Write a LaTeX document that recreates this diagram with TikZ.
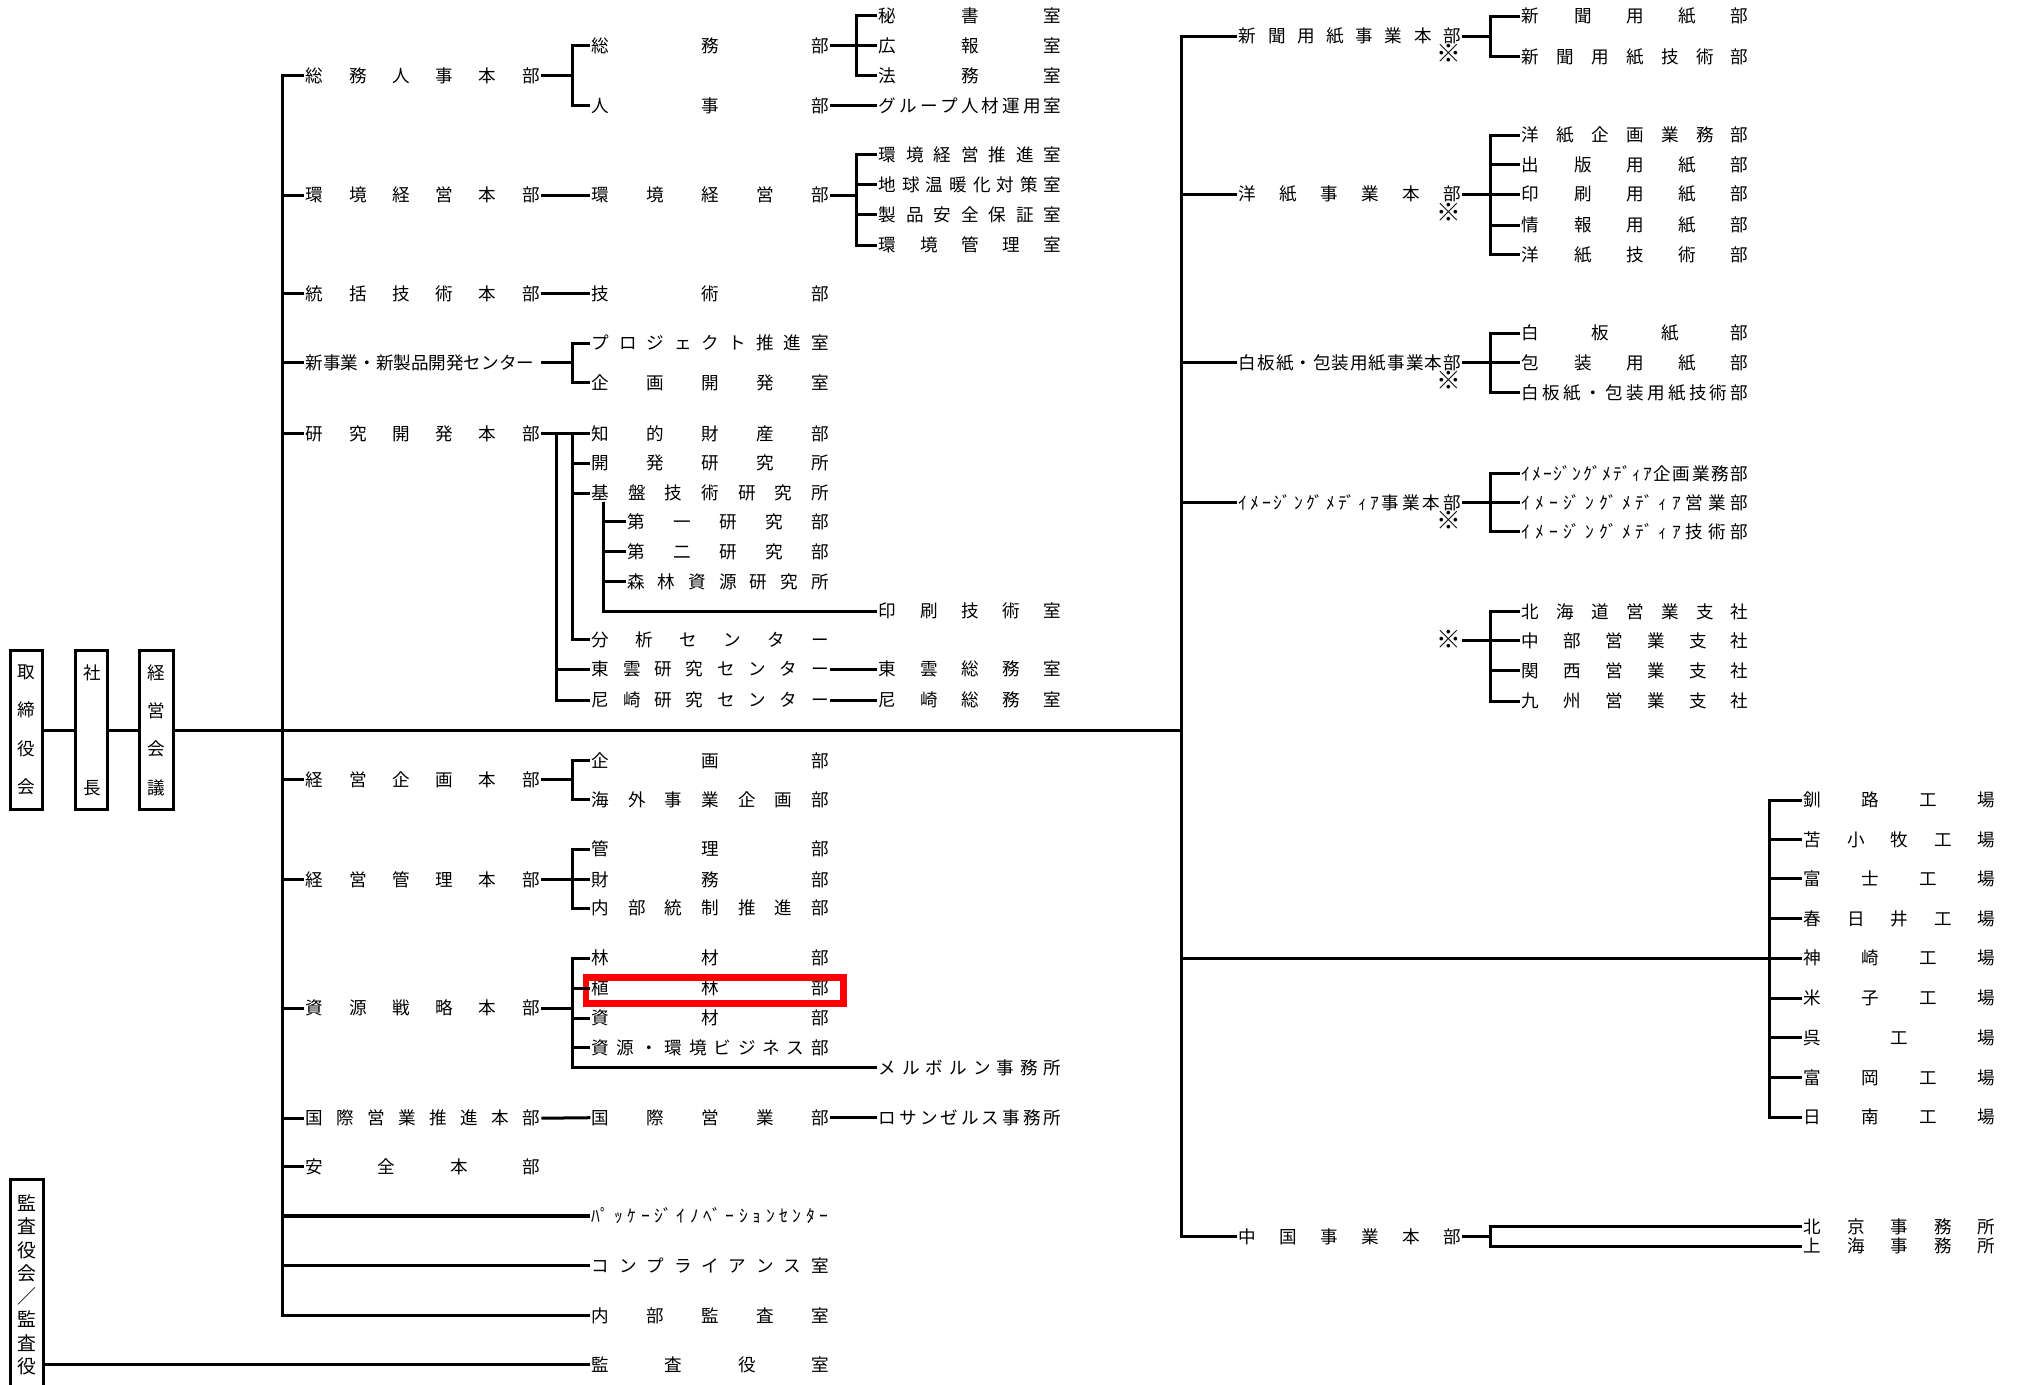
\documentclass[tikz,border=0pt]{standalone}
\usepackage{fontspec}
\newfontfamily\jp{Noto Sans CJK JP}
\newdimen\myu \myu=0.6pt
\tikzset{
  lbl/.style={anchor=west, inner sep=0pt, text height=6.2pt, text depth=0pt, font=\jp\fontsize{8.2}{10}\selectfont},
  kome/.style={inner sep=0pt, text height=7pt, text depth=0pt, font=\jp\fontsize{11.5}{12}\selectfont},
  vbx/.style={draw, line width=1.4pt, inner sep=0pt, align=center, minimum width=15pt, minimum height=74.4pt, font=\jp\fontsize{8.2}{17.9}\selectfont},
  hilite/.style={draw=red, line width=3.2pt, inner sep=0pt, minimum width=119.9pt, minimum height=12.5pt},
}
\newcommand\tx[5]{\node[lbl] (#1) at (#2,#3) {\hbox to #4\myu{\spaceskip=0pt plus 1fil\relax #5}};}
\newcommand\br[3]{\foreach \c in {#3}{\draw (#1.east) -- (#1.east -| #2) |- (\c.west);}}
\begin{document}
\begin{tikzpicture}[x=0.6pt, y=-0.6pt, line width=1.4pt]
\useasboundingbox (0,0) rectangle (1568,1076);

% top-level boxes
\node[vbx] (tori) at (20.8,567.5) {取\\締\\役\\会};
\node[vbx] (sha) at (71.4,567.5) {社\\[35.8pt]長};
\node[vbx, minimum width=15.7pt] (kai) at (121.6,567.5) {経\\営\\会\\議};
\node[draw, line width=1.4pt, inner xsep=0pt, inner ysep=7.3pt, minimum width=15.3pt, anchor=north, align=center, font=\jp\fontsize{8.8}{10.85}\selectfont] (kansa) at (20.75,915.5) {監\\査\\役\\会\\／\\監\\査\\役};

\coordinate (LT) at (219.4,567.5);
\coordinate (RT) at (918.5,567.5);
\coordinate (X0) at (432.3,0);
\coordinate (X1) at (444.7,0);
\coordinate (X2) at (666,0);
\coordinate (XR) at (1158.3,0);
\coordinate (KB) at (469,390);
\coordinate (MB) at (1375.4,745);

% left level 1
\tx{a1}{236.5}{59}{182}{総 務 人 事 本 部}
\tx{a2}{236.5}{151.6}{182}{環 境 経 営 本 部}
\tx{a3}{236.5}{228.5}{182}{統 括 技 術 本 部}
\tx{a4}{236.5}{282}{182}{新事業・新製品開発センター}
\tx{a5}{236.5}{336.9}{182}{研 究 開 発 本 部}
\tx{a6}{236.5}{606.3}{182}{経 営 企 画 本 部}
\tx{a7}{236.5}{684}{182}{経 営 管 理 本 部}
\tx{a8}{236.5}{783.8}{182}{資 源 戦 略 本 部}
\tx{a9}{236.5}{869.3}{182}{国 際 営 業 推 進 本 部}
\tx{a10}{236.5}{907}{182}{安 全 本 部}

% left level 2
\tx{b1}{459}{35.5}{184}{総 務 部}
\tx{b2}{459}{82.4}{184}{人 事 部}
\tx{b3}{459}{151.6}{184}{環 境 経 営 部}
\tx{b4}{459}{228.5}{184}{技 術 部}
\tx{b5}{459}{266.9}{184}{プ ロ ジ ェ ク ト 推 進 室}
\tx{b6}{459}{297.5}{184}{企 画 開 発 室}
\tx{b7}{459}{336.9}{184}{知 的 財 産 部}
\tx{b8}{459}{360.2}{184}{開 発 研 究 所}
\tx{b9}{459}{383.5}{184}{基 盤 技 術 研 究 所}
\tx{b10}{459}{497.5}{184}{分 析 セ ン タ ー}
\tx{b11}{459}{520.3}{184}{東 雲 研 究 セ ン タ ー}
\tx{b12}{459}{544.2}{184}{尼 崎 研 究 セ ン タ ー}
\tx{b13}{459}{591.3}{184}{企 画 部}
\tx{b14}{459}{621.9}{184}{海 外 事 業 企 画 部}
\tx{b15}{459}{660.2}{184}{管 理 部}
\tx{b16}{459}{683.6}{184}{財 務 部}
\tx{b17}{459}{706}{184}{内 部 統 制 推 進 部}
\tx{b18}{459}{745}{184}{林 材 部}
\tx{b19}{459}{768.3}{184}{植 林 部}
\tx{b20}{459}{791.6}{184}{資 材 部}
\tx{b21}{459}{814.2}{184}{資 源 ・ 環 境 ビ ジ ネ ス 部}
\tx{b22}{459}{868.9}{184}{国 際 営 業 部}
\tx{b23}{459}{945.3}{184}{ﾊﾟ ｯ ｹ ｰ ｼﾞ ｲ ﾉ ﾍﾞ ｰ ｼ ｮ ﾝ ｾ ﾝ ﾀ ｰ}
\tx{b24}{459}{983.9}{184}{コ ン プ ラ イ ア ン ス 室}
\tx{b25}{459}{1022.8}{184}{内 部 監 査 室}
\tx{b26}{459}{1061.1}{184}{監 査 役 室}

% sub of 基盤技術研究所
\tx{c1}{486.5}{405.5}{156.5}{第 一 研 究 部}
\tx{c2}{486.5}{428.9}{156.5}{第 二 研 究 部}
\tx{c3}{486.5}{452.2}{156.5}{森 林 資 源 研 究 所}

% left level 3
\tx{d1}{682}{12.4}{142}{秘 書 室}
\tx{d2}{682}{35.5}{142}{広 報 室}
\tx{d3}{682}{59}{142}{法 務 室}
\tx{d4}{682}{82.4}{142}{グ ル ー プ 人 材 運 用 室}
\tx{d5}{682}{120.5}{142}{環 境 経 営 推 進 室}
\tx{d6}{682}{143.8}{142}{地 球 温 暖 化 対 策 室}
\tx{d7}{682}{167}{142}{製 品 安 全 保 証 室}
\tx{d8}{682}{190.5}{142}{環 境 管 理 室}
\tx{d9}{682}{475}{142}{印 刷 技 術 室}
\tx{d10}{682}{520.3}{142}{東 雲 総 務 室}
\tx{d11}{682}{544.2}{142}{尼 崎 総 務 室}
\tx{d12}{682}{830}{142}{メ ル ボ ル ン 事 務 所}
\tx{d13}{682}{868.9}{142}{ロ サ ン ゼ ル ス 事 務 所}

% right level 1
\tx{e1}{962}{28}{172.5}{新 聞 用 紙 事 業 本 部}
\tx{e2}{962}{151}{172.5}{洋 紙 事 業 本 部}
\tx{e3}{962}{282}{172.5}{白 板 紙 ・ 包 装 用 紙 事 業 本 部}
\tx{e4}{962}{391}{172.5}{ｲ ﾒ ｰ ｼﾞ ﾝ ｸﾞ ﾒ ﾃﾞ ｨ ｱ 事 業 本 部}
\tx{e5}{962}{961.3}{172.5}{中 国 事 業 本 部}
\node[kome] (k1) at (1126,43) {※};
\node[kome] (k2) at (1126,166) {※};
\node[kome] (k3) at (1126,297) {※};
\node[kome] (k4) at (1126,406) {※};
\node[kome] (k5) at (1126,498) {※};

% right level 2
\tx{f1}{1182}{12.7}{176}{新 聞 用 紙 部}
\tx{f2}{1182}{44}{176}{新 聞 用 紙 技 術 部}
\tx{f3}{1182}{105}{176}{洋 紙 企 画 業 務 部}
\tx{f4}{1182}{128}{176}{出 版 用 紙 部}
\tx{f5}{1182}{151}{176}{印 刷 用 紙 部}
\tx{f6}{1182}{175}{176}{情 報 用 紙 部}
\tx{f7}{1182}{198}{176}{洋 紙 技 術 部}
\tx{f8}{1182}{259}{176}{白 板 紙 部}
\tx{f9}{1182}{282}{176}{包 装 用 紙 部}
\tx{f10}{1182}{305.5}{176}{白 板 紙 ・ 包 装 用 紙 技 術 部}
\tx{f11}{1182}{368}{176}{ｲ ﾒ ｰ ｼﾞ ﾝ ｸﾞ ﾒ ﾃﾞ ｨ ｱ 企 画 業 務 部}
\tx{f12}{1182}{391}{176}{ｲ ﾒ ｰ ｼﾞ ﾝ ｸﾞ ﾒ ﾃﾞ ｨ ｱ 営 業 部}
\tx{f13}{1182}{413.5}{176}{ｲ ﾒ ｰ ｼﾞ ﾝ ｸﾞ ﾒ ﾃﾞ ｨ ｱ 技 術 部}
\tx{f14}{1182}{475.5}{176}{北 海 道 営 業 支 社}
\tx{f15}{1182}{498}{176}{中 部 営 業 支 社}
\tx{f16}{1182}{521.5}{176}{関 西 営 業 支 社}
\tx{f17}{1182}{545}{176}{九 州 営 業 支 社}

% mills and China offices
\tx{g1}{1401}{622}{149}{釧 路 工 場}
\tx{g2}{1401}{653}{149}{苫 小 牧 工 場}
\tx{g3}{1401}{683}{149}{富 士 工 場}
\tx{g4}{1401}{714.4}{149}{春 日 井 工 場}
\tx{g5}{1401}{745}{149}{神 崎 工 場}
\tx{g6}{1401}{776}{149}{米 子 工 場}
\tx{g7}{1401}{806.5}{149}{呉 工 場}
\tx{g8}{1401}{838}{149}{富 岡 工 場}
\tx{g9}{1401}{868.5}{149}{日 南 工 場}
\tx{h1}{1401}{953.5}{149}{北 京 事 務 所}
\tx{h2}{1401}{968.7}{149}{上 海 事 務 所}

% highlight
\node[hilite] (hl) at (555.5,770) {};

% main connectors
\draw (tori.east) -- (sha.west);
\draw (sha.east) -- (kai.west);
\draw (kai.east) -- (RT);
\foreach \c in {a1,a2,a3,a4,a5,a6,a7,a8,a9,a10,b23,b24,b25} {\draw (\c.west) -| (LT);}
\foreach \c in {e1,e2,e3,e4,e5} {\draw (\c.west) -| (RT);}
\draw (b26.west) -- (b26.west -| kansa.east);

% left branches
\br{a1}{X1}{b1,b2}
\draw (a2.east) -- (b3.west);
\draw (a3.east) -- (b4.west);
\br{a4}{X1}{b5,b6}
\br{a5}{X1}{b7,b8,b9,b10}
\br{a5}{X0}{b11,b12}
\br{a6}{X1}{b13,b14}
\br{a7}{X1}{b15,b16,b17}
\br{a8}{X1}{b18,b19,b20,b21,d12}
\draw (a9.east) -- (b22.west);
\br{b1}{X2}{d1,d2,d3}
\draw (b2.east) -- (d4.west);
\br{b3}{X2}{d5,d6,d7,d8}
\foreach \c in {c1,c2,c3,d9} {\draw (KB) |- (\c.west);}
\draw (b11.east) -- (d10.west);
\draw (b12.east) -- (d11.west);
\draw (b22.east) -- (d13.west);

% right branches
\br{e1}{XR}{f1,f2}
\br{e2}{XR}{f3,f4,f5,f6,f7}
\br{e3}{XR}{f8,f9,f10}
\br{e4}{XR}{f11,f12,f13}
\br{k5}{XR}{f14,f15,f16,f17}
\br{e5}{XR}{h1,h2}
\draw (MB) -- (MB -| RT);
\foreach \c in {g1,g2,g3,g4,g5,g6,g7,g8,g9} {\draw (MB) |- (\c.west);}
\end{tikzpicture}
\end{document}
